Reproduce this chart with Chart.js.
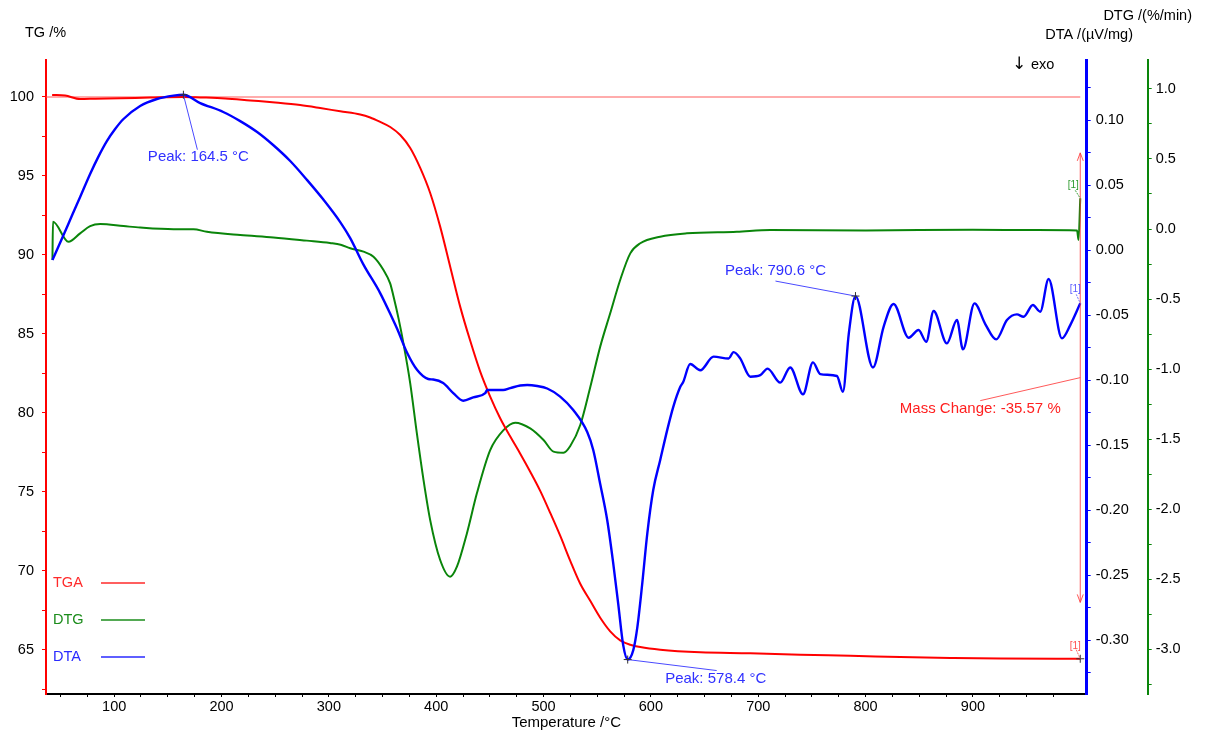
<!DOCTYPE html>
<html>
<head>
<meta charset="utf-8">
<script src="https://cdn.jsdelivr.net/npm/chart.js@4.4.1/dist/chart.umd.min.js"></script>
<style>
  html, body { margin: 0; padding: 0; background: #fff; }
  canvas { display: block; }
</style>
</head>
<body>
<canvas id="c" width="1205" height="733"></canvas>
<script>
// ---- Thermal analysis data (temperature in °C) ----
// TG: mass in %
const tgTemp = [42.2, 54.3, 68.3, 82.3, 105.6, 133.5, 164.3, 180.1, 203.4, 226.7, 250.0, 273.3, 291.9, 310.6, 329.2, 338.5,
  347.8, 357.2, 366.5, 375.8, 385.1, 394.4, 403.7, 413.1, 422.4, 431.7, 441.0, 450.3, 459.6, 469.0, 478.3, 487.6,
  496.9, 506.2, 515.5, 524.9, 534.2, 543.5, 552.8, 562.1, 571.4, 580.8, 590.1, 608.7, 646.0, 692.6, 739.2, 785.8,
  832.3, 878.9, 925.5, 1000.0];
const tgMass = [100.13, 100.09, 99.87, 99.89, 99.92, 99.96, 100.0, 99.97, 99.91, 99.78, 99.65, 99.49, 99.30, 99.09, 98.89, 98.70,
  98.42, 98.10, 97.59, 96.77, 95.51, 93.92, 91.79, 89.24, 86.71, 84.56, 82.61, 81.03, 79.66, 78.50, 77.41, 76.27,
  75.06, 73.67, 72.22, 70.63, 69.18, 68.10, 67.03, 66.17, 65.60, 65.32, 65.17, 65.0, 64.84, 64.78, 64.68, 64.62,
  64.54, 64.48, 64.44, 64.43];

// DTG: rate of mass change in %/min
const dtgTemp = [42.5, 43, 57.4, 68.3, 77.6, 87, 108.7, 124.2, 155.3, 173.9, 186.4, 217.4, 248.4, 279.5, 301, 311,
  319.9, 332.3, 341.6, 350.9, 357.1, 360.2, 364.9, 369.5, 375.8, 382.0, 388.2, 394.4, 403.7, 413.0, 419.3, 428.6,
  437.9, 450.3, 462.7, 473.6, 487.6, 500.0, 509.3, 518.6, 524.9, 534.2, 543.5, 552.8, 562.1, 571.4, 580.8, 590.1,
  608.7, 633.5, 680.1, 711.2, 800, 900, 960, 997, 998.4, 1000];
const dtgRate = [-0.221, 0.052, -0.091, -0.031, 0.021, 0.036, 0.021, 0.01, -0.002, -0.002, -0.02, -0.043, -0.06, -0.083, -0.1, -0.112,
  -0.138, -0.162, -0.198, -0.293, -0.388, -0.48, -0.638, -0.817, -1.102, -1.46, -1.793, -2.079, -2.364, -2.483, -2.412, -2.174,
  -1.888, -1.579, -1.436, -1.383, -1.424, -1.507, -1.59, -1.598, -1.55, -1.40, -1.13, -0.84, -0.602, -0.364, -0.174, -0.102,
  -0.055, -0.031, -0.019, -0.007, -0.01, -0.006, -0.008, -0.01, -0.079, 0.219];

// DTA: µV/mg (exo down)
const dtaTemp = [42.5, 51.6, 60.9, 68.3, 77.6, 85.1, 93.2, 100.9, 108.7, 124.2, 139.8, 155.3, 164.5, 180.1, 201.6, 217.4,
  233.2, 248.1, 264.0, 279.8, 294.7, 310.6, 319.9, 332.0, 347.8, 359.0, 363.7, 373.0, 382.3, 392.6, 397.2, 406.5,
  415.9, 425.2, 434.5, 445.7, 447.5, 462.4, 469.0, 478.3, 484.8, 494.1, 503.4, 515.5, 527.7, 540.7, 546.3, 552.8,
  559.3, 564.9, 569.6, 574.2, 578.4, 583.6, 587.4, 592.0, 596.7, 602.2, 608.7, 615.2, 620.8, 627.3, 630.1, 636.6,
  646.0, 658.4, 672.4, 677.0, 683.2, 692.6, 701.9, 708.7, 720.5, 729.8, 741.7, 751.0, 757.8, 773.3, 778.9, 784.4,
  790.6, 806.9, 816.8, 826.1, 840.1, 849.4, 856.5, 863.4, 875.8, 885.1, 890.7, 901.5, 911.5, 921.7, 931.7, 941.0,
  947.2, 955.9, 962.7, 970.5, 982.9, 990.7, 1000];
const dtaSignal = [-0.0077, 0.0092, 0.0269, 0.0408, 0.0585, 0.0715, 0.0838, 0.0931, 0.1008, 0.1108, 0.1162, 0.1188, 0.1195, 0.1131, 0.1062, 0.0992,
  0.0908, 0.0808, 0.0685, 0.0538, 0.039, 0.0215, 0.0092, -0.0108, -0.0331, -0.0523, -0.0608, -0.0792, -0.0923, -0.0992, -0.0996, -0.1023,
  -0.11, -0.1159, -0.1133, -0.11, -0.1077, -0.1077, -0.1062, -0.1042, -0.1038, -0.1046, -0.1065, -0.1127, -0.1231, -0.14, -0.1538, -0.18,
  -0.2077, -0.2408, -0.2723, -0.3038, -0.315, -0.3077, -0.29, -0.2562, -0.2177, -0.1846, -0.1615, -0.1385, -0.1208, -0.1054, -0.1015, -0.0877,
  -0.0925, -0.082, -0.0834, -0.0785, -0.0833, -0.0974, -0.0962, -0.0912, -0.102, -0.0903, -0.111, -0.0864, -0.0954, -0.0969, -0.109, -0.0641,
  -0.0354, -0.0903, -0.059, -0.0415, -0.0674, -0.0615, -0.0705, -0.0469, -0.0718, -0.0538, -0.0764, -0.041, -0.0569, -0.0687, -0.0538, -0.0495,
  -0.0513, -0.0423, -0.0474, -0.0223, -0.0679, -0.0577, -0.041];

// Evaluated DTA peaks (°C)
const dtaPeaks = [164.5, 578.4, 790.6];
// Mass change between start level and final residue (%)
const massStart = 100;
const massChange = -35.57;

// Axis ticks (labelled and unlabelled)
const xTicks = [50, 75, 100, 125, 150, 175, 200, 225, 250, 275, 300, 325, 350, 375, 400, 425, 450, 475, 500, 525,
  550, 575, 600, 625, 650, 675, 700, 725, 750, 775, 800, 825, 850, 875, 900, 925, 950, 975];
const tgTicks = [62.5, 65, 67.5, 70, 72.5, 75, 77.5, 80, 82.5, 85, 87.5, 90, 92.5, 95, 97.5, 100];
const dtaTicks = [-0.325, -0.3, -0.275, -0.25, -0.225, -0.2, -0.175, -0.15, -0.125, -0.1, -0.075, -0.05, -0.025, 0, 0.025, 0.05, 0.075, 0.1, 0.125];
const dtgTicks = [-3.25, -3, -2.75, -2.5, -2.25, -2, -1.75, -1.5, -1.25, -1, -0.75, -0.5, -0.25, 0, 0.25, 0.5, 0.75, 1];

const FONT = '"Liberation Sans", Arial, Helvetica, sans-serif';
const FS = 14.5;
const FS_NOTE = 15;
const RED = '#ff0000', GREEN = '#0a850a', BLUE = '#0000ff';

Chart.defaults.font.family = FONT;
Chart.defaults.font.size = FS;
Chart.defaults.color = '#000';

const pts = (xs, ys) => xs.map((x, i) => ({ x: x, y: ys[i] }));
const isMult = (v, step) => Math.abs(v / step - Math.round(v / step)) < 1e-6;
const setTicks = list => scale => { scale.ticks = list.map(v => ({ value: v })); };

function valueAt(xs, ys, t) {
  return ys[xs.indexOf(t)];
}

function text(ctx, str, x, y, color, align, size, family) {
  ctx.save();
  ctx.font = (size || FS) + 'px ' + (family || FONT);
  ctx.fillStyle = color;
  ctx.textAlign = align || 'left';
  ctx.textBaseline = 'middle';
  ctx.fillText(str, x, y);
  ctx.restore();
}
function line(ctx, x1, y1, x2, y2, color, w, dash) {
  ctx.save();
  ctx.strokeStyle = color;
  ctx.lineWidth = w || 1;
  if (dash) ctx.setLineDash(dash);
  ctx.beginPath();
  ctx.moveTo(x1, y1);
  ctx.lineTo(x2, y2);
  ctx.stroke();
  ctx.restore();
}
function cross(ctx, x, y, color) {
  line(ctx, x - 4, y, x + 4, y, color, 1);
  line(ctx, x, y - 4, x, y + 4, color, 1);
}

// Start-level line drawn under the curves
const baseLevel = {
  id: 'baseLevel',
  beforeDatasetsDraw(chart) {
    const { ctx, chartArea, scales } = chart;
    const y = scales.yTG.getPixelForValue(massStart);
    const xEnd = scales.x.getPixelForValue(tgTemp[tgTemp.length - 1]);
    line(ctx, chartArea.left, y, xEnd, y, 'rgba(255,70,70,0.6)', 1.5);
  }
};

// Headings, legend, peak and mass-change evaluations
const decorations = {
  id: 'decorations',
  afterDatasetsDraw(chart) {
    const { ctx, scales } = chart;
    const X = scales.x, TG = scales.yTG, DTA = scales.yDTA, DTG = scales.yDTG;

    // axis headings
    text(ctx, 'TG /%', 25, 33, '#000', 'left');
    text(ctx, 'DTG /(%/min)', 1192, 16, '#000', 'right');
    text(ctx, 'DTA /(\u00b5V/mg)', 1133, 35, '#000', 'right');
    text(ctx, '\u2193', 1019, 65, '#000', 'center', 17, '"DejaVu Sans", sans-serif');
    text(ctx, 'exo', 1031, 65, '#000', 'left');

    // legend
    const leg = [['TGA', '#ff2a2a', 583], ['DTG', '#1b8c1b', 620], ['DTA', '#2a2aff', 657]];
    leg.forEach(([name, col, y]) => {
      text(ctx, name, 53, y, col, 'left');
      line(ctx, 101, y, 145, y, col, 1.5);
    });

    // DTA peaks
    const peakStyle = {
      164.5: { lx: 15, ly: 62, ex: 14, ey: 55 },
      578.4: { lx: 88, ly: 19, ex: 89, ey: 11 },
      790.6: { lx: -80, ly: -25, ex: -80, ey: -15 }
    };
    dtaPeaks.forEach(t => {
      const px = X.getPixelForValue(t);
      const py = DTA.getPixelForValue(valueAt(dtaTemp, dtaSignal, t));
      const s = peakStyle[t];
      line(ctx, px, py, px + s.ex, py + s.ey, '#4a4aff', 1);
      cross(ctx, px, py, '#333');
      text(ctx, 'Peak: ' + t.toFixed(1) + ' \u00b0C', px + s.lx, py + s.ly, '#3030ff', 'center', FS_NOTE);
    });

    // mass change arrow
    const tEnd = tgTemp[tgTemp.length - 1];
    const ax = X.getPixelForValue(tEnd);
    const aTop = TG.getPixelForValue(96.46);
    const aBot = TG.getPixelForValue(68.0);
    const mc = 'rgba(255,60,60,0.85)';
    line(ctx, ax, aTop, ax, aBot, mc, 1);
    line(ctx, ax - 3, aTop + 8, ax, aTop, mc, 1);
    line(ctx, ax + 3, aTop + 8, ax, aTop, mc, 1);
    line(ctx, ax - 3, aBot - 8, ax, aBot, mc, 1);
    line(ctx, ax + 3, aBot - 8, ax, aBot, mc, 1);
    const aMid = (aTop + aBot) / 2;
    line(ctx, ax, aMid, ax - 100, aMid + 23, mc, 1);
    text(ctx, 'Mass Change: ' + massChange.toFixed(2) + ' %', ax - 100, aMid + 31, '#ff2020', 'center', FS_NOTE);

    // end-point evaluation markers
    const tgEndY = TG.getPixelForValue(tgMass[tgMass.length - 1]);
    cross(ctx, ax, tgEndY, '#333');
    line(ctx, ax - 4, tgEndY - 9, ax, tgEndY, 'rgba(255,60,60,0.8)', 1, [2, 1]);
    text(ctx, '[1]', ax - 5, tgEndY - 13, '#ff5050', 'center', 10);

    const dtaEndY = DTA.getPixelForValue(dtaSignal[dtaSignal.length - 1]);
    line(ctx, ax - 4, dtaEndY - 9, ax, dtaEndY, 'rgba(80,80,255,0.8)', 1, [2, 1]);
    text(ctx, '[1]', ax - 5, dtaEndY - 14, '#5a5aff', 'center', 10);

    const dtgEndY = DTG.getPixelForValue(dtgRate[dtgRate.length - 1]);
    line(ctx, ax - 5, dtgEndY - 8, ax, dtgEndY, 'rgba(20,140,20,0.8)', 1, [2, 1]);
    text(ctx, '[1]', ax - 7, dtgEndY - 13, '#2e9a2e', 'center', 10);
  }
};

new Chart(document.getElementById('c'), {
  type: 'line',
  data: {
    datasets: [
      { label: 'DTA', data: pts(dtaTemp, dtaSignal), yAxisID: 'yDTA', borderColor: BLUE, borderWidth: 2.4,
        pointRadius: 0, cubicInterpolationMode: 'monotone', fill: false },
      { label: 'TGA', data: pts(tgTemp, tgMass), yAxisID: 'yTG', borderColor: RED, borderWidth: 2,
        pointRadius: 0, cubicInterpolationMode: 'monotone', fill: false },
      { label: 'DTG', data: pts(dtgTemp, dtgRate), yAxisID: 'yDTG', borderColor: GREEN, borderWidth: 2,
        pointRadius: 0, cubicInterpolationMode: 'monotone', fill: false }
    ]
  },
  options: {
    responsive: false,
    animation: false,
    events: [],
    layout: { padding: { top: 60, left: 0, right: 0, bottom: 0 } },
    plugins: { legend: { display: false }, tooltip: { enabled: false } },
    scales: {
      x: {
        type: 'linear', min: 36.5, max: 1006,
        afterBuildTicks: setTicks(xTicks),
        afterFit: s => { s.height = 39; },
        ticks: { autoSkip: false, maxRotation: 0, padding: 1, color: '#000',
          callback: v => isMult(v, 100) ? String(v) : '' },
        grid: { drawOnChartArea: false, tickLength: 3, tickColor: '#000', tickWidth: 1 },
        border: { color: '#000', width: 2 },
        title: { display: true, text: 'Temperature /\u00b0C', color: '#000', font: { size: FS_NOTE },
          padding: { top: 0, bottom: 1 } }
      },
      yTG: {
        position: 'left', min: 62.2, max: 102.34,
        afterBuildTicks: setTicks(tgTicks),
        afterFit: s => { s.width = 46; },
        ticks: { autoSkip: false, padding: 8, color: '#000',
          callback: v => isMult(v, 5) ? String(v) : '' },
        grid: { drawOnChartArea: false, tickLength: 4, tickColor: RED, tickWidth: 1 },
        border: { color: RED, width: 2 }
      },
      yDTA: {
        position: 'right', weight: 0, min: -0.3415, max: 0.1462,
        afterBuildTicks: setTicks(dtaTicks),
        afterFit: s => { s.width = 61; },
        ticks: { autoSkip: false, padding: 5, color: '#000',
          callback: v => isMult(v, 0.05) ? v.toFixed(2) : '' },
        grid: { drawOnChartArea: false, tickLength: 4, tickColor: BLUE, tickWidth: 1 },
        border: { color: BLUE, width: 3 }
      },
      yDTG: {
        position: 'right', weight: 1, min: -3.321, max: 1.207,
        afterBuildTicks: setTicks(dtgTicks),
        afterFit: s => { s.width = 57.3; },
        ticks: { autoSkip: false, padding: 4, color: '#000',
          callback: v => isMult(v, 0.5) ? v.toFixed(1) : '' },
        grid: { drawOnChartArea: false, tickLength: 4, tickColor: GREEN, tickWidth: 1 },
        border: { color: GREEN, width: 2 }
      }
    }
  },
  plugins: [baseLevel, decorations]
});
</script>
</body>
</html>
